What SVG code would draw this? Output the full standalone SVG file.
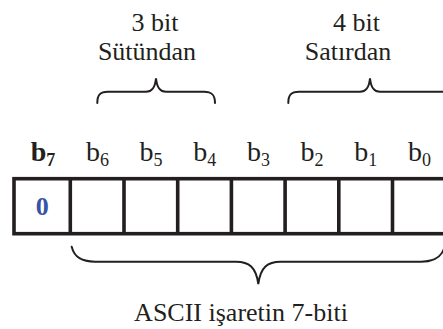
<svg xmlns="http://www.w3.org/2000/svg" width="443" height="329" viewBox="0 0 443 329">
  <style>
    .t { font-family: "Liberation Serif", "Times New Roman", serif; fill: #231f20; }
    .cap { font-size: 26px; text-anchor: middle; }
    .bit { font-size: 28px; text-anchor: middle; }
    .sub { font-size: 18px; }
    .brace { fill: none; stroke: #231f20; stroke-width: 2; stroke-linecap: round; }
    .cell { fill: none; stroke: #231f20; stroke-width: 3.6; }
  </style>

  <!-- group headings -->
  <g id="col-label">
    <text class="t cap" x="155" y="31">3 bit</text>
    <text class="t cap" x="147" y="60">Sütündan</text>
  </g>
  <g id="row-label">
    <text class="t cap" x="356.5" y="31">4 bit</text>
    <text class="t cap" x="348" y="60">Satırdan</text>
  </g>

  <!-- braces -->
  <g id="braces">
    <path class="brace" d="M97.3,103 C97.3,95 100,91.7 108,91.7 L146,91.7 C152,91.7 155,88 156,78.3 C157,88 160,91.7 166,91.7 L204,91.7 C212,91.7 215,95 215,103"/>
    <path class="brace" d="M288.3,103 C288.3,95 291,91.7 299,91.7 L360,91.7 C366,91.7 369,88 370,78.3 C371,88 374,91.7 380,91.7 L446,91.7"/>
    <path class="brace" d="M71.7,246.7 C74,256 80,261.7 95,261.7 L236,261.7 C249,261.7 256,267 258.3,284 C260.6,267 267.6,261.7 280.6,261.7 L421,261.7 C436,261.7 442,256 444.6,246.7"/>
  </g>

  <!-- bit position labels -->
  <g id="bit-labels">
    <text class="t bit" x="43" y="161" font-weight="bold">b<tspan class="sub" dy="5">7</tspan></text>
    <text class="t bit" x="97.5" y="161">b<tspan class="sub" dy="5">6</tspan></text>
    <text class="t bit" x="151" y="161">b<tspan class="sub" dy="5">5</tspan></text>
    <text class="t bit" x="204.7" y="161">b<tspan class="sub" dy="5">4</tspan></text>
    <text class="t bit" x="258.4" y="161">b<tspan class="sub" dy="5">3</tspan></text>
    <text class="t bit" x="312" y="161">b<tspan class="sub" dy="5">2</tspan></text>
    <text class="t bit" x="365.7" y="161">b<tspan class="sub" dy="5">1</tspan></text>
    <text class="t bit" x="419.4" y="161">b<tspan class="sub" dy="5">0</tspan></text>
  </g>

  <!-- the 8-bit register -->
  <g id="register">
    <rect class="cell" x="14" y="178.7" width="432.4" height="55"/>
    <path class="cell" d="M70.3,178.7 V233.7 M124,178.7 V233.7 M177.7,178.7 V233.7 M231.4,178.7 V233.7 M285.1,178.7 V233.7 M338.8,178.7 V233.7 M392.5,178.7 V233.7"/>
    <text x="42.2" y="215" font-family="Liberation Serif, serif" font-size="26" font-weight="bold" fill="#3953a4" text-anchor="middle">0</text>
  </g>

  <!-- caption -->
  <g id="caption">
    <text class="t cap" x="241" y="321">ASCII işaretin 7-biti</text>
  </g>
</svg>
